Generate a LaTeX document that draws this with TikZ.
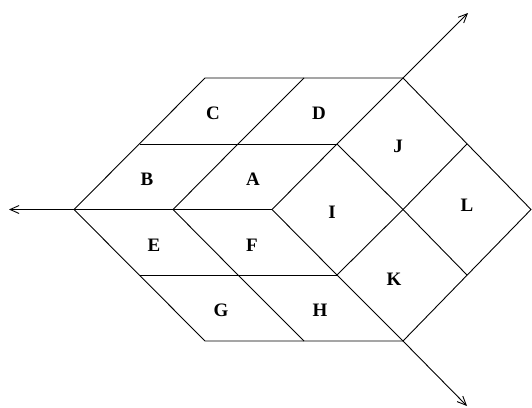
\documentclass[tikz,border=0pt]{standalone}
\usepackage{fontspec}
\setmainfont{Liberation Serif}
\usetikzlibrary{arrows.meta}
\begin{document}
\begin{tikzpicture}[x=1pt,y=-1pt,
  edge/.style={draw=black,line width=0.9pt,line join=miter},
  axis/.style={edge,-{Straight Barb[length=9pt,width=8pt,line width=0.9pt]}},
  lbl/.style={font=\fontsize{19}{19}\selectfont\bfseries,inner sep=0pt}]
\useasboundingbox (0,0) rectangle (532,407);
% rows
\coordinate (l0) at (74,209.5);
\coordinate (t1) at (205,78);  \coordinate (t2) at (304,78);  \coordinate (t3) at (403,78);
\coordinate (a1) at (140,144); \coordinate (a2) at (238,144); \coordinate (a3) at (337,144); \coordinate (a4) at (467,144);
\coordinate (m2) at (173,209.5); \coordinate (m3) at (272,209.5); \coordinate (m4) at (403,209.5); \coordinate (m5) at (531,209.5);
\coordinate (b1) at (140,275); \coordinate (b2) at (238,275); \coordinate (b3) at (337,275); \coordinate (b4) at (467,275);
\coordinate (c1) at (205,341); \coordinate (c2) at (304,341); \coordinate (c3) at (403,341);
% axis ends
\coordinate (eL) at (9,209.5);
\coordinate (eT) at (468,13);
\coordinate (eB) at (467,406);
% outline
\draw[edge] (l0) -- (t1) -- (t3) -- (m5) -- (c3) -- (c1) -- cycle;
% horizontals
\draw[edge] (a1) -- (a3);
\draw[edge] (l0) -- (m3);
\draw[edge] (b1) -- (b3);
% upper diagonals
\draw[edge] (t2) -- (a2) -- (m2);
\draw[edge] (t3) -- (a3) -- (m3);
% lower diagonals
\draw[edge] (m2) -- (b2) -- (c2);
\draw[edge] (m3) -- (b3) -- (c3);
% right rhombi
\draw[edge] (a3) -- (m4) -- (b4);
\draw[edge] (a4) -- (m4) -- (b3);
% axes
\draw[axis] (l0) -- (eL);
\draw[axis] (t3) -- (eT);
\draw[axis] (c3) -- (eB);
% labels
\node[lbl] (C) at (213,113) {C};
\node[lbl] (D) at (319,113) {D};
\node[lbl] (B) at (147,179) {B};
\node[lbl] (A) at (253,179) {A};
\node[lbl] (J) at (398,146) {J};
\node[lbl] (I) at (332,212) {I};
\node[lbl] (L) at (467,205) {L};
\node[lbl] (E) at (154,245) {E};
\node[lbl] (F) at (252,245) {F};
\node[lbl] (K) at (394,279) {K};
\node[lbl] (G) at (221,310) {G};
\node[lbl] (H) at (320,310) {H};
\end{tikzpicture}
\end{document}
